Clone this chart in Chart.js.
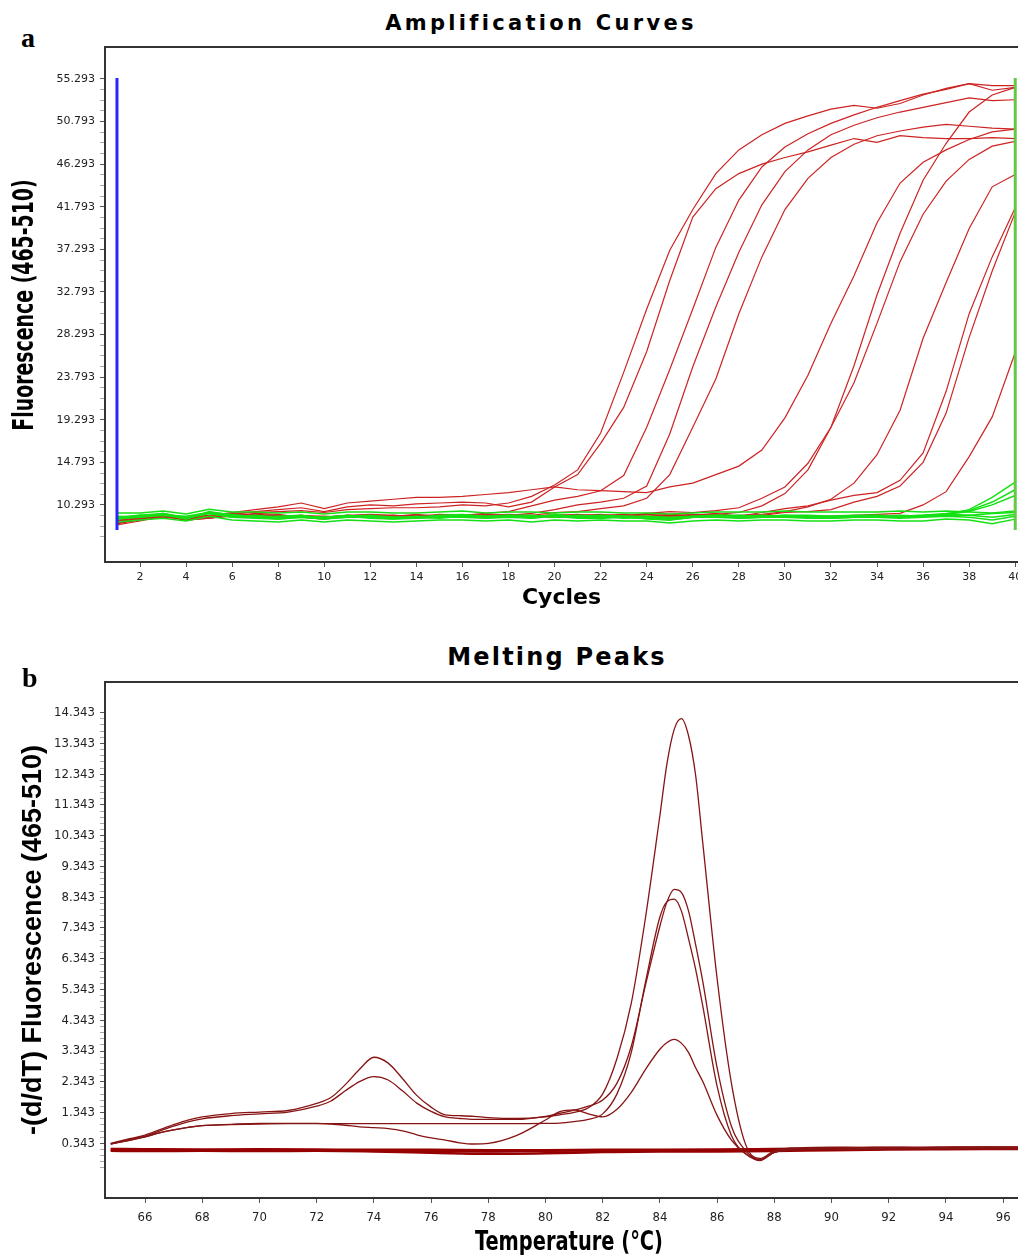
<!DOCTYPE html>
<html>
<head>
<meta charset="utf-8">
<script src="https://cdn.jsdelivr.net/npm/chart.js@4.4.1/dist/chart.umd.min.js"></script>
<style>
html, body { margin: 0; padding: 0; background: #fff; overflow: hidden; width: 1018px; height: 1255px; }
#wrapA { position: absolute; left: 0; top: 0; width: 1018px; height: 620px; }
#wrapB { position: absolute; left: 0; top: 630px; width: 1018px; height: 635px; }
.title { position: absolute; font-family: "DejaVu Sans", sans-serif; font-weight: bold; line-height: 1; white-space: nowrap; transform: translateX(-50%); color: #000; }
.panel { position: absolute; font-family: "Liberation Serif", serif; font-weight: bold; font-size: 28px; line-height: 1; color: #000; }
.axisTitle { position: absolute; font-family: "DejaVu Sans Condensed", "DejaVu Sans", sans-serif; font-weight: bold; line-height: 1; white-space: nowrap; color: #000; }
</style>
</head>
<body>
<div class="panel" style="left:21px;top:24px">a</div>
<div class="title" style="left:541px;top:13px;font-size:21px;letter-spacing:3.3px">Amplification Curves</div>
<div id="wrapA"><canvas id="chartA" width="1018" height="620"></canvas></div>
<div class="axisTitle" style="left:24px;top:305px;font-size:28px;transform:translate(-50%,-50%) rotate(-90deg) scaleX(0.75)">Fluorescence (465-510)</div>
<div class="panel" style="left:22px;top:664px">b</div>
<div class="title" style="left:557px;top:645px;font-size:24px;letter-spacing:2.2px">Melting Peaks</div>
<div id="wrapB"><canvas id="chartB" width="1018" height="635"></canvas></div>
<div class="axisTitle" style="left:569px;top:1240px;font-size:27px;transform:translate(-50%,-50%) scaleX(0.8)">Temperature (°C)</div>

<script>
// ---- panel a: amplification curves (cycles 1..40) ----
const cycles = [1, 2, 3, 4, 5, 6, 7, 8, 9, 10, 11, 12, 13, 14, 15, 16, 17, 18, 19, 20,
                21, 22, 23, 24, 25, 26, 27, 28, 29, 30, 31, 32, 33, 34, 35, 36, 37, 38, 39, 40];
const cycleTicks = [2, 4, 6, 8, 10, 12, 14, 16, 18, 20, 22, 24, 26, 28, 30, 32, 34, 36, 38, 40];
const fluoTicks = [10.293, 14.793, 19.293, 23.793, 28.293, 32.793, 37.293, 41.793, 46.293, 50.793, 55.293];

const red1 = [8.4, 8.8, 9.2, 8.9, 9.0, 9.4, 9.5, 9.6, 9.7, 9.5, 9.8, 9.9, 10.0, 10.0, 10.1, 10.3, 10.2, 10.5, 11.2, 12.4,
              14.0, 17.9, 24.3, 31.0, 37.2, 41.5, 45.3, 47.8, 49.4, 50.6, 51.4, 52.1, 52.5, 52.2, 52.7, 53.6, 54.3, 54.8, 54.1, 54.4];
const red2 = [8.6, 8.9, 9.3, 8.8, 9.1, 9.3, 9.6, 9.8, 10.0, 9.6, 10.1, 10.3, 10.2, 10.4, 10.5, 10.6, 10.5, 10.1, 10.6, 12.2,
              13.5, 16.8, 20.6, 26.5, 34.0, 40.7, 43.7, 45.3, 46.3, 47.0, 47.6, 48.3, 49.0, 48.6, 49.3, 49.1, 49.0, 49.0, 49.1, 49.0];
const red3 = [8.5, 8.8, 9.4, 8.8, 8.9, 9.2, 9.3, 9.2, 9.1, 9.0, 9.2, 9.3, 9.2, 9.1, 9.3, 9.2, 9.4, 9.6, 10.2, 10.8,
              11.2, 11.8, 13.4, 18.5, 24.6, 31.0, 37.5, 42.5, 46.0, 48.1, 49.5, 50.6, 51.5, 52.3, 53.0, 53.7, 54.2, 54.8, 54.6, 54.6];
const red4 = [8.2, 8.6, 9.1, 8.7, 8.9, 9.1, 9.4, 9.3, 9.0, 8.9, 9.1, 9.2, 9.0, 9.1, 9.2, 9.1, 9.3, 9.2, 9.4, 9.8,
              10.3, 10.6, 11.0, 12.3, 17.8, 24.9, 31.2, 37.0, 42.0, 45.5, 47.8, 49.4, 50.4, 51.2, 51.8, 52.3, 52.8, 53.3, 53.0, 53.1];
const red5 = [8.4, 8.7, 9.0, 8.8, 9.0, 9.3, 9.2, 9.1, 9.2, 8.9, 9.2, 9.0, 9.1, 9.3, 9.1, 9.0, 9.2, 9.3, 9.2, 9.5,
              9.6, 9.9, 10.2, 11.0, 13.5, 18.5, 23.6, 30.5, 36.5, 41.5, 44.8, 47.0, 48.4, 49.3, 49.8, 50.2, 50.5, 50.3, 50.1, 50.0];
const red6 = [8.7, 9.0, 9.3, 9.0, 9.2, 9.5, 9.8, 10.1, 10.5, 9.9, 10.5, 10.7, 10.9, 11.1, 11.1, 11.2, 11.4, 11.6, 11.9, 12.2,
              11.9, 11.8, 11.7, 11.6, 12.2, 12.6, 13.5, 14.4, 16.1, 19.5, 24.0, 29.5, 34.5, 40.1, 44.3, 46.5, 47.8, 48.9, 49.7, 50.0];
const red7 = [8.5, 8.9, 9.2, 8.7, 8.9, 9.2, 9.0, 8.9, 9.1, 9.0, 9.2, 9.1, 8.9, 9.0, 9.1, 9.2, 9.0, 9.1, 9.0, 9.2,
              9.3, 9.1, 9.2, 9.3, 9.2, 9.1, 9.3, 9.5, 10.2, 11.5, 14.0, 18.5, 25.0, 32.5, 39.0, 44.6, 48.5, 51.8, 53.6, 54.4];
const red8 = [8.3, 8.8, 9.1, 8.8, 9.0, 9.1, 9.3, 9.0, 9.0, 8.8, 9.1, 9.0, 9.2, 9.1, 9.0, 9.1, 9.2, 9.0, 9.1, 9.0,
              9.2, 9.3, 9.1, 9.4, 9.6, 9.5, 9.7, 10.0, 11.0, 12.2, 14.7, 18.5, 23.2, 29.5, 36.0, 41.0, 44.5, 46.8, 48.2, 48.7];
const red9 = [8.6, 8.9, 9.2, 8.9, 9.1, 9.3, 9.1, 9.2, 9.0, 9.1, 9.0, 9.2, 9.1, 9.0, 9.2, 9.1, 9.0, 9.2, 9.1, 9.3,
              9.1, 9.0, 9.2, 9.1, 9.3, 9.2, 9.1, 9.2, 9.3, 9.6, 10.1, 10.9, 12.6, 15.6, 20.3, 27.9, 33.8, 39.5, 43.9, 45.2];
const red10 = [8.4, 8.8, 9.3, 8.9, 9.0, 9.2, 9.3, 9.0, 9.1, 8.9, 9.2, 9.0, 9.1, 9.2, 9.0, 9.1, 9.3, 9.0, 9.2, 9.1,
               9.0, 9.2, 9.3, 9.1, 9.0, 9.2, 9.4, 9.1, 9.5, 9.9, 10.2, 10.8, 11.3, 11.6, 12.9, 15.8, 22.3, 30.5, 36.5, 41.7];
const red11 = [8.5, 8.9, 9.1, 8.8, 9.0, 9.3, 9.2, 9.0, 9.1, 9.0, 9.1, 9.2, 9.0, 9.1, 9.2, 9.0, 9.1, 9.2, 9.1, 9.0,
               9.2, 9.1, 9.2, 9.0, 9.1, 9.3, 9.2, 9.0, 9.2, 9.5, 9.6, 9.8, 10.6, 11.2, 12.3, 14.8, 20.0, 28.0, 35.0, 41.2];
const red12 = [8.6, 8.9, 9.2, 8.8, 9.0, 9.2, 9.1, 9.0, 9.2, 9.1, 9.0, 9.1, 9.2, 9.0, 9.1, 9.2, 9.0, 9.1, 9.2, 9.0,
               9.1, 9.2, 9.0, 9.1, 9.2, 9.1, 9.0, 9.1, 9.2, 9.1, 9.0, 9.1, 9.2, 9.3, 9.4, 10.3, 11.7, 15.4, 19.6, 26.4];

const green1 = [8.8, 9.0, 9.4, 8.9, 9.5, 9.1, 9.0, 8.8, 9.0, 8.8, 9.1, 8.9, 8.8, 9.0, 8.9, 9.1, 9.0, 9.2, 8.9, 9.3,
                9.0, 8.9, 9.1, 8.8, 8.7, 9.0, 9.2, 8.9, 9.0, 9.2, 9.0, 8.9, 9.0, 9.1, 9.0, 9.1, 9.3, 9.8, 11.1, 12.7];
const green2 = [9.0, 9.1, 9.3, 8.8, 9.6, 9.2, 9.1, 8.9, 9.1, 8.9, 9.0, 9.1, 8.9, 9.1, 9.0, 9.2, 8.9, 9.1, 9.0, 9.2,
                9.1, 9.0, 9.0, 8.9, 8.8, 9.1, 9.0, 9.0, 9.1, 9.1, 9.0, 9.0, 9.1, 9.2, 9.1, 9.2, 9.4, 9.7, 10.6, 11.9];
const green3 = [8.9, 9.2, 9.3, 9.0, 9.4, 9.0, 9.2, 9.0, 9.0, 9.0, 9.2, 9.0, 9.0, 8.9, 9.1, 9.1, 9.0, 9.0, 9.1, 9.1,
                9.2, 9.1, 8.9, 9.0, 8.9, 9.0, 9.1, 9.1, 9.2, 9.0, 9.1, 9.1, 9.0, 9.1, 9.2, 9.1, 9.3, 9.6, 10.3, 11.3];
const green4 = [9.1, 9.0, 9.2, 9.1, 9.5, 9.3, 9.0, 9.1, 9.2, 8.9, 9.1, 9.2, 9.0, 9.0, 9.2, 9.3, 9.1, 9.2, 9.2, 9.0,
                9.1, 9.2, 9.1, 9.1, 9.0, 9.1, 9.2, 9.2, 9.1, 9.2, 9.2, 9.1, 9.2, 9.2, 9.1, 9.2, 9.3, 9.2, 9.4, 9.5];
const green5 = [8.5, 8.7, 8.9, 8.6, 9.1, 8.7, 8.6, 8.5, 8.7, 8.5, 8.7, 8.6, 8.5, 8.6, 8.7, 8.7, 8.6, 8.7, 8.5, 8.7,
                8.6, 8.7, 8.6, 8.6, 8.4, 8.6, 8.7, 8.6, 8.7, 8.7, 8.6, 8.6, 8.7, 8.7, 8.6, 8.6, 8.8, 8.7, 8.3, 8.8];
const green6 = [9.45, 9.45, 9.65, 9.35, 9.85, 9.55, 9.55, 9.45, 9.55, 9.35, 9.55, 9.55, 9.45, 9.45, 9.55, 9.65, 9.45, 9.55, 9.55, 9.45,
                9.55, 9.55, 9.45, 9.45, 9.35, 9.45, 9.55, 9.55, 9.55, 9.65, 9.55, 9.55, 9.55, 9.55, 9.65, 9.55, 9.65, 9.55, 9.45, 9.65];
const green7 = [8.8, 9.1, 9.2, 8.9, 9.4, 9.0, 8.9, 8.8, 9.0, 8.8, 9.0, 9.0, 8.8, 8.9, 9.0, 9.0, 8.9, 9.0, 8.9, 9.1,
                8.9, 8.9, 9.0, 8.9, 8.7, 9.0, 9.0, 8.9, 9.0, 9.0, 8.9, 8.9, 9.0, 9.0, 8.9, 9.0, 9.1, 9.0, 8.7, 9.1];
const green8 = [9.0, 9.2, 9.4, 9.0, 9.5, 9.2, 9.1, 9.0, 9.1, 9.0, 9.1, 9.1, 9.0, 9.0, 9.1, 9.2, 9.1, 9.1, 9.0, 9.2,
                9.0, 9.1, 9.1, 9.0, 8.9, 9.0, 9.1, 9.1, 9.1, 9.1, 9.0, 9.1, 9.1, 9.1, 9.0, 9.1, 9.2, 9.2, 9.0, 9.3];

// analysis window markers (start / end cycle) and their vertical span
const markerCycles = [1, 40];
const markerSpan = [7.65, 55.4];

// ---- panel b: melting peaks ----
const temps = [64.8, 65.5, 66, 66.5, 67, 67.5, 68, 69, 70, 71, 72, 72.5, 73, 73.5, 74, 74.5, 75, 75.5, 76, 76.5,
               77, 77.5, 78, 79, 80, 80.5, 81, 81.5, 82, 82.5, 83, 83.5, 84, 84.25, 84.5, 84.75, 85, 85.25, 85.5, 86,
               86.5, 87, 87.5, 88, 89, 90, 91, 92, 93, 94, 95, 96, 96.6];
const tempTicks = [66, 68, 70, 72, 74, 76, 78, 80, 82, 84, 86, 88, 90, 92, 94, 96];
const derivTicks = [0.343, 1.343, 2.343, 3.343, 4.343, 5.343, 6.343, 7.343, 8.343, 9.343, 10.343, 11.343, 12.343, 13.343, 14.343];

const peak1 = [0.34, 0.50, 0.61, 0.78, 0.95, 1.10, 1.20, 1.31, 1.36, 1.41, 1.64, 1.83, 2.25, 2.75, 3.14, 2.95, 2.45, 1.90, 1.52, 1.27,
               1.24, 1.22, 1.18, 1.15, 1.20, 1.27, 1.35, 1.50, 1.95, 3.10, 4.90, 7.70, 11.00, 12.70, 13.80, 14.15, 13.60, 12.30, 10.10, 5.70,
               2.30, 0.30, -0.15, 0.10, 0.20, 0.22, 0.21, 0.22, 0.21, 0.22, 0.23, 0.22, 0.22];
const peak2 = [0.32, 0.48, 0.58, 0.74, 0.90, 1.04, 1.14, 1.24, 1.30, 1.36, 1.55, 1.72, 2.05, 2.35, 2.51, 2.40, 2.05, 1.65, 1.38, 1.20,
               1.15, 1.12, 1.12, 1.12, 1.22, 1.32, 1.42, 1.55, 1.75, 2.30, 3.50, 5.50, 7.40, 8.20, 8.60, 8.50, 7.90, 6.80, 5.60, 2.80,
               0.90, 0.10, -0.20, 0.05, 0.17, 0.19, 0.20, 0.19, 0.20, 0.21, 0.20, 0.21, 0.21];
const peak3 = [0.33, 0.45, 0.55, 0.68, 0.78, 0.86, 0.92, 0.95, 0.97, 0.98, 0.98, 0.98, 0.98, 0.98, 0.98, 0.98, 0.98, 0.98, 0.98, 0.98,
               0.98, 0.98, 0.98, 0.98, 0.99, 1.00, 1.05, 1.12, 1.30, 1.95, 3.30, 5.60, 7.70, 8.20, 8.28, 7.90, 7.00, 6.00, 4.80, 2.20,
               0.60, 0.00, -0.18, 0.05, 0.15, 0.18, 0.17, 0.18, 0.19, 0.18, 0.19, 0.18, 0.19];
const peak4 = [0.32, 0.45, 0.55, 0.68, 0.78, 0.86, 0.92, 0.96, 0.99, 0.99, 0.99, 0.97, 0.93, 0.88, 0.85, 0.82, 0.75, 0.62, 0.52, 0.45,
               0.36, 0.32, 0.34, 0.60, 1.10, 1.37, 1.43, 1.30, 1.20, 1.45, 2.00, 2.75, 3.40, 3.62, 3.72, 3.60, 3.30, 2.80, 2.35, 1.25,
               0.45, 0.00, -0.22, 0.05, 0.14, 0.16, 0.15, 0.16, 0.17, 0.16, 0.17, 0.16, 0.17];

// negative controls (flat)
const flatTemps = [64.8, 66, 68, 70, 72, 74, 76, 78, 80, 82, 84, 86, 88, 90, 92, 94, 96.6];
const flat1 = [0.16, 0.15, 0.14, 0.15, 0.14, 0.13, 0.13, 0.12, 0.12, 0.13, 0.13, 0.14, 0.16, 0.18, 0.19, 0.20, 0.21];
const flat2 = [0.10, 0.09, 0.10, 0.09, 0.10, 0.08, 0.04, 0.00, 0.02, 0.06, 0.08, 0.08, 0.09, 0.12, 0.14, 0.15, 0.16];
const flat3 = [0.13, 0.12, 0.12, 0.13, 0.12, 0.11, 0.10, 0.08, 0.10, 0.11, 0.11, 0.12, 0.13, 0.15, 0.17, 0.17, 0.18];

const condensed = '"DejaVu Sans Condensed", "DejaVu Sans", sans-serif';

function toPoints(xs, ys) {
    return ys.map((y, i) => ({ x: xs[i], y: y }));
}

// major ticks plus evenly spaced minor ticks between them
function tickList(major, parts, below) {
    const step = (major[1] - major[0]) / parts;
    const last = major[major.length - 1];
    const list = [];
    for (let k = -below; major[0] + k * step <= last + 1e-6; k++) {
        list.push(+(major[0] + k * step).toFixed(4));
    }
    return list;
}
const isMajor = (v, major) => major.some(m => Math.abs(m - v) < 1e-3);

function yAxis(major, parts, below, min, max, tickFont, title) {
    const all = tickList(major, parts, below);
    return {
        type: 'linear', min: min, max: max,
        afterBuildTicks: s => { s.ticks = all.map(v => ({ value: v })); },
        afterFit: s => { s.width = 105; },
        ticks: {
            autoSkip: false, padding: 5, color: '#222', font: tickFont,
            callback: v => isMajor(v, major) ? v.toFixed(3) : ''
        },
        grid: {
            drawOnChartArea: false, drawTicks: true, tickLength: 5,
            tickColor: c => (c.tick && isMajor(c.tick.value, major)) ? '#555' : '#aaa'
        },
        border: { display: true, color: '#333', width: 2 },
        title: title
    };
}

function xAxis(ticksArr, min, max, height, tickFont, tickPad, title) {
    return {
        type: 'linear', min: min, max: max,
        afterBuildTicks: s => { s.ticks = ticksArr.map(v => ({ value: v })); },
        afterFit: s => { s.height = height; s.paddingLeft = 0; s.paddingRight = 0; },
        ticks: { autoSkip: false, maxRotation: 0, padding: tickPad, color: '#222', font: tickFont,
                 callback: v => String(v) },
        grid: { drawOnChartArea: false, drawTicks: true, tickLength: 5, tickColor: '#555' },
        border: { display: true, color: '#333', width: 2 },
        title: title
    };
}

function topFrame(min, max) {
    return {
        type: 'linear', position: 'top', min: min, max: max,
        afterFit: s => { s.height = 0; s.paddingLeft = 0; s.paddingRight = 0; },
        ticks: { display: false },
        grid: { display: false },
        border: { display: true, color: '#333', width: 2 }
    };
}

const baseOptions = {
    responsive: false,
    animation: false,
    devicePixelRatio: 1,
    plugins: { legend: { display: false }, tooltip: { enabled: false } },
    elements: { point: { radius: 0 } }
};

// ---- chart a ----
const redSeries = [red1, red2, red3, red4, red5, red6, red7, red8, red9, red10, red11, red12];
const greenSeries = [green1, green2, green3, green4, green5, green6, green7, green8];

const datasetsA = [
    { data: toPoints([markerCycles[0], markerCycles[0]], markerSpan), borderColor: 'rgb(40,40,250)', borderWidth: 3 },
    { data: toPoints([markerCycles[1], markerCycles[1]], markerSpan), borderColor: 'rgb(100,200,70)', borderWidth: 3 }
];
greenSeries.forEach(s => datasetsA.push({
    data: toPoints(cycles, s), borderColor: 'rgb(20,225,20)', borderWidth: 1.5, tension: 0
}));
redSeries.forEach(s => datasetsA.push({
    data: toPoints(cycles, s), borderColor: 'rgb(205,35,35)', borderWidth: 1.2, tension: 0
}));

new Chart(document.getElementById('chartA'), {
    type: 'line',
    data: { datasets: datasetsA },
    options: Object.assign({}, baseOptions, {
        layout: { padding: { top: 47, left: 0, right: 0, bottom: 0 } },
        scales: {
            x: xAxis(cycleTicks, 0.48, 40.12, 58, { family: '"DejaVu Sans", sans-serif', size: 11 }, 4, {
                display: true, text: 'Cycles', color: '#000',
                font: { family: '"DejaVu Sans", sans-serif', size: 22, weight: 'bold' },
                padding: { top: 0, bottom: 9 }
            }),
            xTop: topFrame(0.48, 40.12),
            y: yAxis(fluoTicks, 4, 3, 4.27, 58.67, { family: '"DejaVu Sans", sans-serif', size: 11 }, { display: false })
        }
    })
});

// ---- chart b ----
const peakSeries = [peak1, peak2, peak3, peak4];
const flatSeries = [flat1, flat2, flat3];
const datasetsB = [];
peakSeries.forEach(s => datasetsB.push({
    data: toPoints(temps, s), borderColor: 'rgb(135,20,20)', borderWidth: 1.3, cubicInterpolationMode: 'monotone'
}));
flatSeries.forEach(s => datasetsB.push({
    data: toPoints(flatTemps, s), borderColor: 'rgb(150,0,0)', borderWidth: 2.5, cubicInterpolationMode: 'monotone'
}));

new Chart(document.getElementById('chartB'), {
    type: 'line',
    data: { datasets: datasetsB },
    options: Object.assign({}, baseOptions, {
        layout: { padding: { top: 52, left: 0, right: 0, bottom: 0 } },
        scales: {
            x: xAxis(tempTicks, 64.6, 96.52, 67, { family: condensed, size: 13 }, 7, { display: false }),
            xTop: topFrame(64.6, 96.52),
            y: yAxis(derivTicks, 5, 4, -1.435, 15.34, { family: condensed, size: 13 }, {
                display: true, text: '-(d/dT) Fluorescence (465-510)', color: '#000',
                font: { family: '"Liberation Sans", Arial, sans-serif', size: 27, weight: 'bold' },
                padding: { top: 17, bottom: 0 }
            })
        }
    })
});
</script>
</body>
</html>
